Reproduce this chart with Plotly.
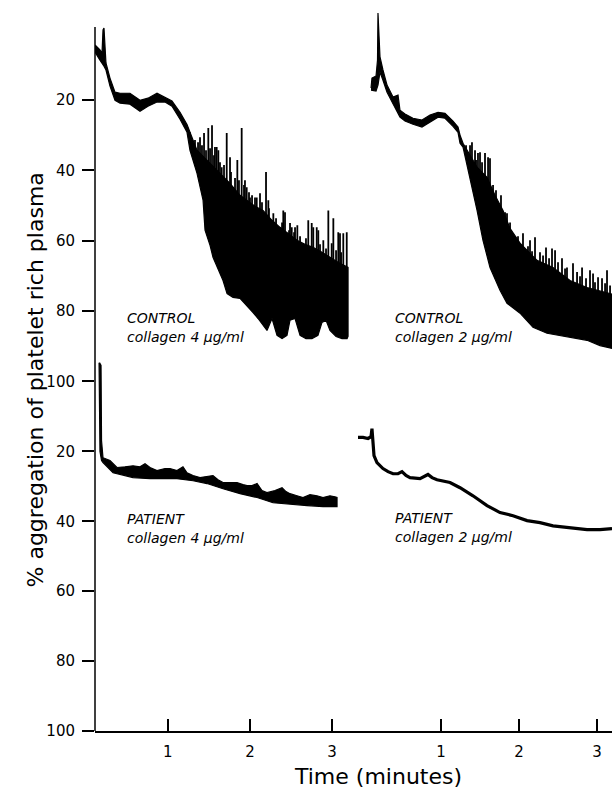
import plotly.graph_objects as go

W, H = 612, 788
H_VIEW = 778  # effective vertical extent observed in the rendered page

# ---------------- data (time in minutes, % aggregation) ----------------
# CONTROL, collagen 4 ug/ml (top-left): upper (body) / lower envelopes of the trace
c4_up_t = [0.116, 0.176, 0.201, 0.213, 0.225, 0.237, 0.249, 0.298, 0.359, 0.420, 0.541, 0.663, 0.760, 0.870, 0.967, 1.052,
           1.150, 1.235, 1.356, 1.454, 1.551, 1.661, 1.758, 1.880, 1.965, 2.062, 2.160, 2.269, 2.366, 2.488, 2.573, 2.670,
           2.768, 2.877, 2.974, 3.072, 3.194]
c4_up_v = [4.4, 5.8, 6.7, 0.1, -0.4, 4.4, 9.5, 13.8, 17.8, 18.1, 18.1, 20.1, 19.5, 18.1, 19.2, 20.3,
           23.5, 27.0, 34.3, 36.6, 39.1, 41.4, 43.7, 47.1, 48.5, 50.2, 51.4, 54.2, 56.2, 58.5, 59.9, 61.0,
           61.9, 63.3, 64.7, 66.1, 67.6]
c4_lo_t = [0.116, 0.176, 0.225, 0.249, 0.298, 0.359, 0.420, 0.541, 0.663, 0.760, 0.870, 0.967, 1.052, 1.150, 1.235, 1.271,
           1.356, 1.430, 1.454, 1.515, 1.551, 1.612, 1.673, 1.722, 1.794, 1.880, 1.965, 2.038, 2.099, 2.147, 2.208, 2.269,
           2.330, 2.391, 2.451, 2.488, 2.549, 2.610, 2.682, 2.755, 2.828, 2.877, 2.926, 2.974, 3.048, 3.120, 3.182, 3.194]
c4_lo_v = [6.4, 8.7, 10.4, 11.5, 16.1, 20.1, 20.9, 21.2, 23.2, 21.8, 20.6, 20.6, 21.8, 25.5, 29.2, 34.3,
           40.8, 48.5, 57.0, 61.3, 64.7, 67.9, 71.3, 75.0, 76.1, 76.4, 78.4, 80.4, 82.1, 83.5, 85.5, 82.1,
           86.9, 87.8, 86.9, 82.6, 82.1, 86.9, 87.8, 87.8, 86.9, 83.2, 82.6, 85.5, 87.2, 87.8, 87.8, 87.2]
# oscillation spikes: time, tip value, base value
c4_sp_t = [1.271, 1.332, 1.369, 1.393, 1.417, 1.442, 1.466, 1.494, 1.515, 1.539, 1.563, 1.575, 1.596, 1.616, 1.636,
           1.657, 1.685, 1.718, 1.758, 1.770, 1.819, 1.847, 1.867, 1.900, 1.928, 1.940, 1.961, 1.989, 2.001, 2.026,
           2.062, 2.083, 2.123, 2.147, 2.196, 2.224, 2.232, 2.285, 2.318, 2.391, 2.406, 2.427, 2.476, 2.488, 2.509,
           2.537, 2.549, 2.577, 2.610, 2.682, 2.710, 2.752, 2.771, 2.813, 2.832, 2.853, 2.893, 2.926, 2.954, 2.995,
           3.015, 3.048, 3.075, 3.096, 3.109, 3.136, 3.178]
c4_sp_top = [29.2, 31.4, 32.0, 30.6, 32.9, 29.4, 34.3, 28.0, 33.7, 27.2, 35.7, 33.4, 33.4, 34.3, 37.7,
             39.1, 38.5, 29.4, 36.3, 40.5, 42.2, 37.1, 42.8, 28.0, 44.2, 42.8, 44.8, 46.2, 47.7, 47.1,
             47.7, 47.7, 46.5, 49.1, 40.5, 48.5, 50.8, 52.2, 53.6, 54.8, 51.4, 51.9, 57.0, 55.0, 56.2,
             57.6, 56.2, 55.6, 58.7, 59.3, 54.2, 55.0, 56.2, 56.2, 57.0, 61.0, 59.9, 62.2, 51.4, 60.7,
             53.6, 62.7, 57.6, 57.9, 63.3, 57.9, 57.6]
c4_sp_base = [32.4, 34.6, 36.1, 36.9, 37.2, 37.8, 38.4, 38.9, 39.7, 40.0, 40.9, 40.9, 41.2, 42.0, 42.4,
              42.9, 43.5, 43.7, 45.2, 45.6, 46.5, 47.4, 48.2, 48.6, 49.4, 49.4, 49.7, 50.4, 50.9, 51.1,
              51.7, 52.0, 52.3, 52.7, 53.4, 54.6, 54.8, 56.0, 56.7, 58.2, 58.3, 58.8, 59.8, 60.0, 60.2,
              60.8, 61.1, 61.4, 61.8, 62.6, 62.8, 63.1, 63.4, 63.7, 63.9, 64.0, 65.1, 65.5, 65.9, 66.5,
              66.8, 67.3, 67.6, 67.9, 68.1, 68.5, 69.1]

# CONTROL, collagen 2 ug/ml (top-right)
c2_up_t = [0.103, 0.115, 0.167, 0.186, 0.192, 0.205, 0.218, 0.256, 0.308, 0.385, 0.449, 0.474, 0.538, 0.641, 0.756, 0.859,
           0.962, 1.051, 1.154, 1.218, 1.244, 1.282, 1.372, 1.462, 1.590, 1.692, 1.795, 1.885, 2.013, 2.231, 2.436, 2.654,
           2.872, 3.192]
c2_up_v = [16.6, 13.8, 13.2, 8.7, -4.7, 3.0, 7.8, 11.5, 15.8, 19.2, 18.6, 22.9, 24.0, 25.2, 25.7, 24.3,
           23.5, 23.8, 26.0, 27.7, 30.0, 32.3, 35.7, 39.1, 42.0, 47.1, 51.4, 56.5, 60.7, 65.6, 67.6, 71.3,
           73.3, 75.2]
c2_lo_t = [0.103, 0.167, 0.192, 0.218, 0.256, 0.308, 0.385, 0.474, 0.538, 0.641, 0.756, 0.859, 0.962, 1.051, 1.154, 1.218,
           1.244, 1.282, 1.372, 1.462, 1.538, 1.628, 1.756, 1.846, 2.013, 2.179, 2.359, 2.654, 2.872, 3.038, 3.192]
c2_lo_v = [17.2, 17.5, 15.8, 12.1, 14.4, 17.8, 20.9, 24.9, 26.0, 26.9, 27.7, 26.3, 24.9, 25.2, 27.5, 29.2,
           32.3, 33.4, 42.0, 51.4, 59.9, 67.6, 74.1, 77.8, 80.6, 84.6, 86.3, 87.5, 88.3, 89.8, 90.6]
c2_sp_t = [1.321, 1.372, 1.397, 1.436, 1.449, 1.474, 1.500, 1.526, 1.564, 1.603, 1.628, 1.667, 1.705, 1.769, 1.821,
           1.846, 1.885, 1.987, 2.051, 2.115, 2.141, 2.167, 2.205, 2.269, 2.308, 2.346, 2.385, 2.423, 2.462, 2.500,
           2.551, 2.590, 2.615, 2.692, 2.744, 2.782, 2.808, 2.859, 2.910, 2.949, 2.974, 3.013, 3.064, 3.103, 3.128,
           3.167]
c2_sp_top = [32.9, 32.9, 32.0, 34.3, 37.1, 35.1, 34.9, 37.7, 35.1, 36.3, 36.6, 44.2, 45.7, 47.1, 51.9,
             52.2, 54.8, 58.7, 57.9, 61.6, 59.9, 63.0, 59.0, 63.3, 64.2, 61.9, 65.0, 62.2, 62.7, 66.1,
             65.0, 67.9, 67.6, 66.4, 68.9, 70.1, 67.6, 70.7, 68.4, 69.3, 71.8, 70.4, 70.7, 72.1, 68.4,
             72.7]
c2_sp_base = [35.3, 37.2, 38.1, 39.5, 40.1, 40.9, 41.5, 42.1, 42.9, 44.3, 45.7, 47.4, 49.1, 51.7, 54.4,
              55.7, 58.0, 61.4, 63.7, 64.5, 65.1, 65.7, 66.5, 67.5, 67.9, 68.2, 68.6, 69.1, 69.6, 70.2,
              70.8, 71.7, 71.9, 73.1, 73.6, 74.0, 74.2, 74.7, 75.0, 75.3, 75.4, 75.6, 75.9, 76.3, 76.2,
              76.6]

# PATIENT, collagen 4 ug/ml (bottom-left)
p4_up_t = [0.170, 0.189, 0.195, 0.213, 0.298, 0.383, 0.481, 0.578, 0.663, 0.724, 0.785, 0.870, 0.967, 1.028, 1.113, 1.186,
           1.235, 1.308, 1.393, 1.478, 1.551, 1.612, 1.673, 1.758, 1.843, 1.916, 1.965, 2.026, 2.087, 2.147, 2.208, 2.305,
           2.391, 2.439, 2.488, 2.573, 2.646, 2.731, 2.816, 2.890, 2.974, 3.035, 3.060]
p4_up_v = [-5.4, -4.6, 16.9, 21.8, 22.6, 24.6, 24.4, 24.1, 24.4, 23.5, 24.6, 25.5, 24.9, 24.9, 25.5, 24.4,
           26.1, 26.9, 27.5, 27.2, 26.9, 28.1, 28.9, 28.9, 28.9, 29.5, 29.8, 29.8, 29.2, 31.2, 31.8, 31.2,
           30.4, 31.5, 32.1, 32.7, 33.2, 32.4, 32.7, 33.2, 32.7, 33.0, 33.2]
p4_lo_t = [0.165, 0.176, 0.195, 0.213, 0.335, 0.456, 0.578, 0.785, 0.943, 1.113, 1.308, 1.478, 1.673, 1.880, 2.087, 2.281,
           2.488, 2.695, 2.890, 3.060]
p4_lo_v = [-5.4, 20.0, 22.6, 23.2, 26.1, 26.9, 27.5, 27.8, 27.8, 27.8, 28.4, 29.2, 30.7, 32.1, 33.2, 34.7,
           35.0, 35.5, 35.8, 35.8]

# PATIENT, collagen 2 ug/ml (bottom-right): single trace
p2_t = [-0.064, 0.000, 0.064, 0.103, 0.115, 0.128, 0.141, 0.179, 0.256, 0.321, 0.385, 0.449, 0.500, 0.551, 0.603, 0.731,
        0.833, 0.885, 0.949, 1.115, 1.244, 1.410, 1.590, 1.756, 1.923, 2.103, 2.269, 2.436, 2.615, 2.872, 3.038, 3.192]
p2_v = [16.0, 16.0, 16.3, 15.8, 13.5, 18.3, 21.2, 23.2, 24.9, 25.8, 26.4, 26.4, 25.8, 26.9, 27.5, 27.8,
        26.6, 27.5, 28.1, 28.9, 30.4, 32.7, 35.5, 37.5, 38.4, 39.8, 40.4, 41.3, 41.8, 42.4, 42.4, 42.1]

y_ticks = [20, 40, 60, 80, 100]
x_ticks = [1, 2, 3]
labels = {
    "c4": ("CONTROL", "collagen 4 μg/ml"),
    "c2": ("CONTROL", "collagen 2 μg/ml"),
    "p4": ("PATIENT", "collagen 4 μg/ml"),
    "p2": ("PATIENT", "collagen 2 μg/ml"),
}

FONT = "DejaVu Sans"


def band(up_t, up_v, lo_t, lo_v, xa, ya):
    return go.Scatter(
        x=list(up_t) + list(reversed(lo_t)),
        y=list(up_v) + list(reversed(lo_v)),
        xaxis=xa, yaxis=ya, mode="lines", fill="toself",
        fillcolor="black", line=dict(color="black", width=1.2),
        hoverinfo="skip", showlegend=False,
    )


def spikes(ts, tops, bases, xa, ya):
    xs, ys = [], []
    for t, a, b in zip(ts, tops, bases):
        xs += [t, t, None]
        ys += [b, a, None]
    return go.Scatter(x=xs, y=ys, xaxis=xa, yaxis=ya, mode="lines",
                      line=dict(color="black", width=1.8), hoverinfo="skip", showlegend=False)


fig = go.Figure()
fig.add_trace(band(c4_up_t, c4_up_v, c4_lo_t, c4_lo_v, "x", "y"))
fig.add_trace(spikes(c4_sp_t, c4_sp_top, c4_sp_base, "x", "y"))
fig.add_trace(band(c2_up_t, c2_up_v, c2_lo_t, c2_lo_v, "x2", "y"))
fig.add_trace(spikes(c2_sp_t, c2_sp_top, c2_sp_base, "x2", "y"))
fig.add_trace(band(p4_up_t, p4_up_v, p4_lo_t, p4_lo_v, "x", "y2"))
fig.add_trace(go.Scatter(x=p2_t, y=p2_v, xaxis="x2", yaxis="y2", mode="lines",
                         line=dict(color="black", width=3.2), hoverinfo="skip", showlegend=False))


def px(x):
    return x / W


def py(y):
    return 1 - y / H_VIEW


xstyle = dict(showline=True, linecolor="black", linewidth=1.5, ticks="inside", ticklen=12,
              tickwidth=1.5, tickcolor="black", tickvals=x_ticks, showgrid=False, zeroline=False,
              tickfont=dict(family=FONT, size=15, color="black"), anchor="y2", ticklabelstandoff=6)
ystyle = dict(showline=False, ticks="outside", ticklen=12, tickwidth=1.5, tickcolor="black",
              tickvals=y_ticks, showgrid=False, zeroline=False, anchor="x",
              tickfont=dict(family=FONT, size=15, color="black"), ticklabelstandoff=4)

fig.update_layout(
    width=W, height=H, margin=dict(l=0, r=0, t=0, b=0),
    paper_bgcolor="white", plot_bgcolor="rgba(0,0,0,0)", showlegend=False,
    xaxis=dict(domain=[px(95), px(352)], range=[0.1156, 3.242], **xstyle),
    xaxis2=dict(domain=[px(352), 1.0], range=[-0.141, 3.192], **xstyle),
    yaxis=dict(domain=[py(381), py(8.4)], range=[100, -6], **ystyle),
    yaxis2=dict(domain=[py(730), py(360.1)], range=[100, -6], **ystyle),
)

# continuous vertical axis line
fig.add_shape(type="line", xref="paper", yref="paper", x0=px(95), x1=px(95),
              y0=py(27), y1=py(730), line=dict(color="black", width=1.5))

ann = []
ann.append(dict(text="% aggregation of platelet rich plasma", x=px(35), y=py(380), textangle=-90,
                font=dict(family=FONT, size=22, color="black")))
ann.append(dict(text="Time (minutes)", x=px(378), y=py(776),
                font=dict(family=FONT, size=22, color="black")))
pos = {"c4": (125, 318), "c2": (393, 318), "p4": (125, 518), "p2": (393, 517)}
for k, (l1, l2) in labels.items():
    x0, y0 = pos[k]
    ann.append(dict(text="<i>" + l1 + "</i>", x=px(x0), y=py(y0), xanchor="left",
                    font=dict(family=FONT, size=14, color="black")))
    ann.append(dict(text="<i>" + l2 + "</i>", x=px(x0), y=py(y0 + 19), xanchor="left",
                    font=dict(family=FONT, size=14, color="black")))
for a in ann:
    a.setdefault("xanchor", "center")
    a.update(xref="paper", yref="paper", yanchor="middle", showarrow=False)
fig.update_layout(annotations=ann)

fig.write_html("out.html", config={"displayModeBar": False},
               post_script="document.body.style.margin='0px';")
